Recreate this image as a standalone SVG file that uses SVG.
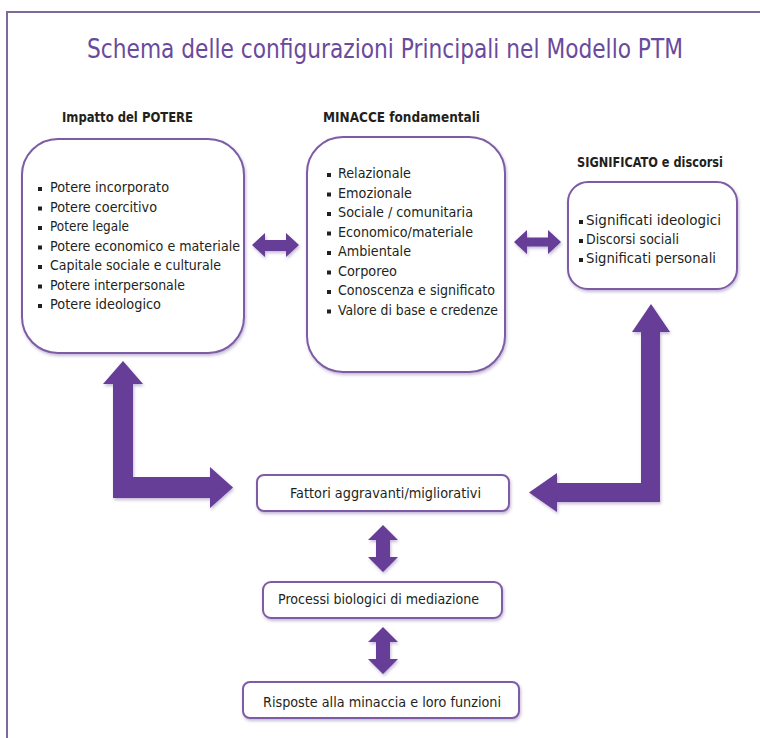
<svg xmlns="http://www.w3.org/2000/svg" width="760" height="738" viewBox="0 0 760 738">
<defs>
<filter id="sh" x="-20%" y="-20%" width="140%" height="140%">
<feDropShadow dx="1" dy="2" stdDeviation="1.6" flood-color="#5a3a8a" flood-opacity="0.35"/>
</filter>
<style>
.t{font-family:"DejaVu Sans Condensed","Liberation Sans",Arial,sans-serif;fill:#231f20}
.li{font-size:14.5px}
.hd{font-size:14px;font-weight:bold}
.ttl{font-family:"DejaVu Sans Condensed","Liberation Sans",Arial,sans-serif;font-size:26px;fill:#6a4a9c}
.box{fill:#fff;stroke:#7d5ca5;stroke-width:2;filter:url(#sh)}
.arr{fill:#663c97;filter:url(#sh)}
.bul{fill:#231f20}
</style>
</defs>
<rect width="760" height="738" fill="#fff"/>
<rect x="7" y="12" width="800" height="800" fill="none" stroke="#7b6b9b" stroke-width="2"/>
<text class="ttl" x="87" y="58" textLength="596" lengthAdjust="spacingAndGlyphs">Schema delle configurazioni Principali nel Modello PTM</text>

<g id="connectors">
<polygon class="arr" points="252,245 265,233 265,240 286,240 286,233 299,245 286,257 286,251 265,251 265,257"/>
<polygon class="arr" points="514,242 527,230 527,237.5 548,237.5 548,230 561,242 548,254 548,246.5 527,246.5 527,254"/>
<polygon class="arr" points="123,361 143,384 133,384 133,477 210,477 210,467 233,487.5 210,508 210,498 113,498 113,384 103,384"/>
<polygon class="arr" points="651,304 670,332 660,332 660,502 557,502 557,512 529,492.5 557,473 557,483 641,483 641,332 632,332"/>
<polygon class="arr" points="383,525 398,540 390,540 390,557 398,557 383,572 368,557 376,557 376,540 368,540"/>
<polygon class="arr" points="383,627 398,642 390,642 390,659 398,659 383,674 368,659 376,659 376,642 368,642"/>
</g>

<g id="potere">
<text class="t hd" x="62" y="122" textLength="131" lengthAdjust="spacingAndGlyphs">Impatto del POTERE</text>
<rect class="box" x="22" y="139" width="222" height="214" rx="36"/>
<g class="bul">
<rect x="38" y="187" width="4" height="4"/><rect x="38" y="206.5" width="4" height="4"/><rect x="38" y="226" width="4" height="4"/><rect x="38" y="245.5" width="4" height="4"/><rect x="38" y="265" width="4" height="4"/><rect x="38" y="284.5" width="4" height="4"/><rect x="38" y="304" width="4" height="4"/>
</g>
<text class="t li" x="50" y="192" textLength="119" lengthAdjust="spacingAndGlyphs">Potere incorporato</text>
<text class="t li" x="50" y="211.5" textLength="107" lengthAdjust="spacingAndGlyphs">Potere coercitivo</text>
<text class="t li" x="50" y="231" textLength="79" lengthAdjust="spacingAndGlyphs">Potere legale</text>
<text class="t li" x="50" y="250.5" textLength="190" lengthAdjust="spacingAndGlyphs">Potere economico e materiale</text>
<text class="t li" x="50" y="270" textLength="171" lengthAdjust="spacingAndGlyphs">Capitale sociale e culturale</text>
<text class="t li" x="50" y="289.5" textLength="135" lengthAdjust="spacingAndGlyphs">Potere interpersonale</text>
<text class="t li" x="50" y="309" textLength="111" lengthAdjust="spacingAndGlyphs">Potere ideologico</text>
</g>

<g id="minacce">
<text class="t hd" x="323" y="122" textLength="157" lengthAdjust="spacingAndGlyphs">MINACCE fondamentali</text>
<rect class="box" x="307" y="137" width="198" height="235" rx="36"/>
<g class="bul">
<rect x="327" y="173" width="4" height="4"/><rect x="327" y="192.5" width="4" height="4"/><rect x="327" y="212" width="4" height="4"/><rect x="327" y="231.5" width="4" height="4"/><rect x="327" y="251" width="4" height="4"/><rect x="327" y="270.5" width="4" height="4"/><rect x="327" y="290" width="4" height="4"/><rect x="327" y="309.5" width="4" height="4"/>
</g>
<text class="t li" x="338" y="178" textLength="73" lengthAdjust="spacingAndGlyphs">Relazionale</text>
<text class="t li" x="338" y="197.5" textLength="74" lengthAdjust="spacingAndGlyphs">Emozionale</text>
<text class="t li" x="338" y="217" textLength="135" lengthAdjust="spacingAndGlyphs">Sociale / comunitaria</text>
<text class="t li" x="338" y="236.5" textLength="135" lengthAdjust="spacingAndGlyphs">Economico/materiale</text>
<text class="t li" x="338" y="256" textLength="73" lengthAdjust="spacingAndGlyphs">Ambientale</text>
<text class="t li" x="338" y="275.5" textLength="59" lengthAdjust="spacingAndGlyphs">Corporeo</text>
<text class="t li" x="338" y="295" textLength="157" lengthAdjust="spacingAndGlyphs">Conoscenza e significato</text>
<text class="t li" x="338" y="314.5" textLength="160" lengthAdjust="spacingAndGlyphs">Valore di base e credenze</text>
</g>

<g id="significato">
<text class="t hd" x="577" y="167" textLength="146" lengthAdjust="spacingAndGlyphs">SIGNIFICATO e discorsi</text>
<rect class="box" x="568" y="182" width="169" height="107" rx="20"/>
<g class="bul">
<rect x="579" y="220" width="4" height="4"/><rect x="579" y="239" width="4" height="4"/><rect x="579" y="258" width="4" height="4"/>
</g>
<text class="t li" x="586" y="225" textLength="135" lengthAdjust="spacingAndGlyphs">Significati ideologici</text>
<text class="t li" x="586" y="244" textLength="93" lengthAdjust="spacingAndGlyphs">Discorsi sociali</text>
<text class="t li" x="586" y="263" textLength="130" lengthAdjust="spacingAndGlyphs">Significati personali</text>
</g>

<g id="fattori">
<rect class="box" x="257" y="475" width="252" height="36" rx="7"/>
<text class="t li" x="290" y="498" textLength="191" lengthAdjust="spacingAndGlyphs">Fattori aggravanti/migliorativi</text>
</g>

<g id="processi">
<rect class="box" x="263" y="582" width="239" height="36" rx="8"/>
<text class="t li" x="278" y="604" textLength="201" lengthAdjust="spacingAndGlyphs">Processi biologici di mediazione</text>
</g>

<g id="risposte">
<rect class="box" x="243" y="682" width="276" height="36" rx="7"/>
<text class="t li" x="263" y="707" textLength="238" lengthAdjust="spacingAndGlyphs">Risposte alla minaccia e loro funzioni</text>
</g>
</svg>
